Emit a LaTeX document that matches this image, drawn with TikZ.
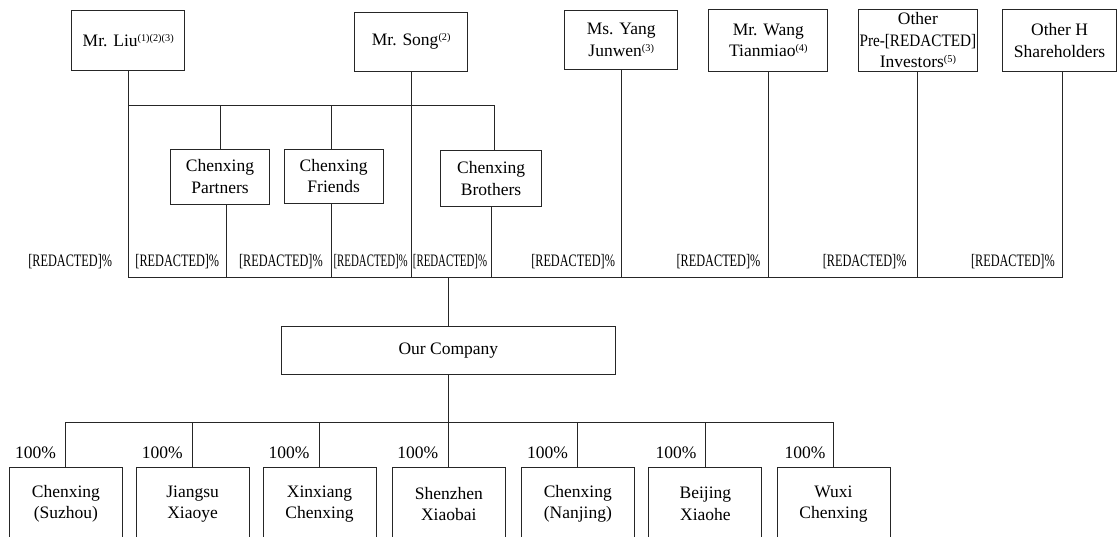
\documentclass[tikz,border=0pt]{standalone}
\usepackage{fontspec}
\setmainfont{Liberation Serif}
\usepackage{graphicx}
\newcommand\mysup[1]{\raisebox{0.65ex}{\fontsize{10.3}{12}\selectfont #1}}
\begin{document}
\begin{tikzpicture}[x=1pt,y=-1pt, line width=0.9pt,
  box/.style={draw=black!85, line width=0.9pt, inner sep=0pt, align=center, font=\fontsize{17.5}{21.5}\selectfont},
  pct/.style={inner sep=0pt, anchor=east, font=\fontsize{17.5}{20}\selectfont},
  conn/.style={draw=black!85, line width=0.9pt}]
\useasboundingbox (0,0) rectangle (1117,536);
\clip (0,0) rectangle (1117,536);
% top shareholders
\node[box, minimum width=112.8pt, minimum height=59.3pt] (liu) at (128.2,40.3) {Mr. Liu\mysup{(1)(2)(3)}};
\node[box, minimum width=112.9pt, minimum height=58.7pt] (song) at (411.2,41.7) {Mr. Song\mysup{(2)}};
\node[box, minimum width=112.9pt, minimum height=58.7pt] (yang) at (621.2,40) {Ms. Yang\\Junwen\mysup{(3)}};
\node[box, minimum width=118.9pt, minimum height=62.7pt] (wang) at (768.3,40.3) {Mr. Wang\\Tianmiao\mysup{(4)}};
\node[box, minimum width=119.2pt, minimum height=62.7pt] (pre) at (917.9,40.3) {Other\\\scalebox{0.87}[1]{Pre-[REDACTED]}\\Investors\mysup{(5)}};
\node[box, minimum width=114pt, minimum height=62.7pt] (oth) at (1059.6,40.3) {Other H\\Shareholders};
% platforms
\node[box, minimum width=99.2pt, minimum height=55pt] (partners) at (220,176.5) {Chenxing\\Partners};
\node[box, minimum width=99pt, minimum height=54.3pt] (friends) at (333.7,176.2) {Chenxing\\Friends};
\node[box, minimum width=101.4pt, minimum height=56pt] (brothers) at (491.1,178.7) {Chenxing\\Brothers};
% company
\node[box, minimum width=334.8pt, minimum height=47.3pt] (ourco) at (448.4,350.3) {Our Company};
% subsidiaries
\foreach \n/\x/\t in {s1/65.9/{Chenxing\\(Suzhou)}, s2/192.6/{Jiangsu\\Xiaoye}, s3/319.5/{Xinxiang\\Chenxing}, s4/448.8/{Shenzhen\\Xiaobai}, s5/577.8/{Chenxing\\(Nanjing)}, s6/705.4/{Beijing\\Xiaohe}, s7/833.5/{Wuxi\\Chenxing}}
  \node[box, minimum width=113pt, minimum height=73.4pt] (\n) at (\x,504) {\t};
% bar coordinates
\coordinate (topbar) at (0,105.7);
\coordinate (botbar) at (0,277.7);
\coordinate (subbar) at (0,422.3);
% connectors upper part
\draw[conn] (liu.south) |- ([xshift=3pt]oth.south |- botbar) -- ([xshift=3pt]oth.south);
\draw[conn] (liu.south |- topbar) -| ([xshift=3.2pt]brothers.north);
\draw[conn] (song.south) -- (song.south |- botbar);
\draw[conn] (partners.north) -- (partners.north |- topbar);
\draw[conn] ([xshift=-2.7pt]friends.north) -- ([xshift=-2.7pt]friends.north |- topbar);
\draw[conn] ([xshift=6.8pt]partners.south) -- ([xshift=6.8pt]partners.south |- botbar);
\draw[conn] ([xshift=-2.7pt]friends.south) -- ([xshift=-2.7pt]friends.south |- botbar);
\draw[conn] (brothers.south) -- (brothers.south |- botbar);
\draw[conn] (yang.south) -- (yang.south |- botbar);
\draw[conn] (wang.south) -- (wang.south |- botbar);
\draw[conn] (pre.south) -- (pre.south |- botbar);
% to company
\draw[conn] (ourco.north |- botbar) -- (ourco.north);
\draw[conn] (ourco.south) -- (ourco.south |- subbar);
\draw[conn] (s1.north) |- (s7.north |- subbar) -- (s7.north);
\foreach \n in {s2,s3,s4,s5,s6}
  \draw[conn] (\n.north) -- (\n.north |- subbar);
% percentage labels
\foreach \n/\x/\s in {r1/112.5/0.7, r2/219.6/0.7, r3/323.2/0.7, r4/408.2/0.62, r5/487.5/0.62, r6/615.4/0.7, r7/760.8/0.7, r8/906.9/0.7, r9/1055.2/0.7}
  \node[pct] (\n) at (\x,261.7) {\scalebox{\s}[1]{[REDACTED]\%}};
\foreach \n/\x in {c1/56.4, c2/183.2, c3/310, c4/438.6, c5/568.5, c6/696.8, c7/826}
  \node[pct] (\n) at (\x,452.3) {100\%};
\end{tikzpicture}
\end{document}
